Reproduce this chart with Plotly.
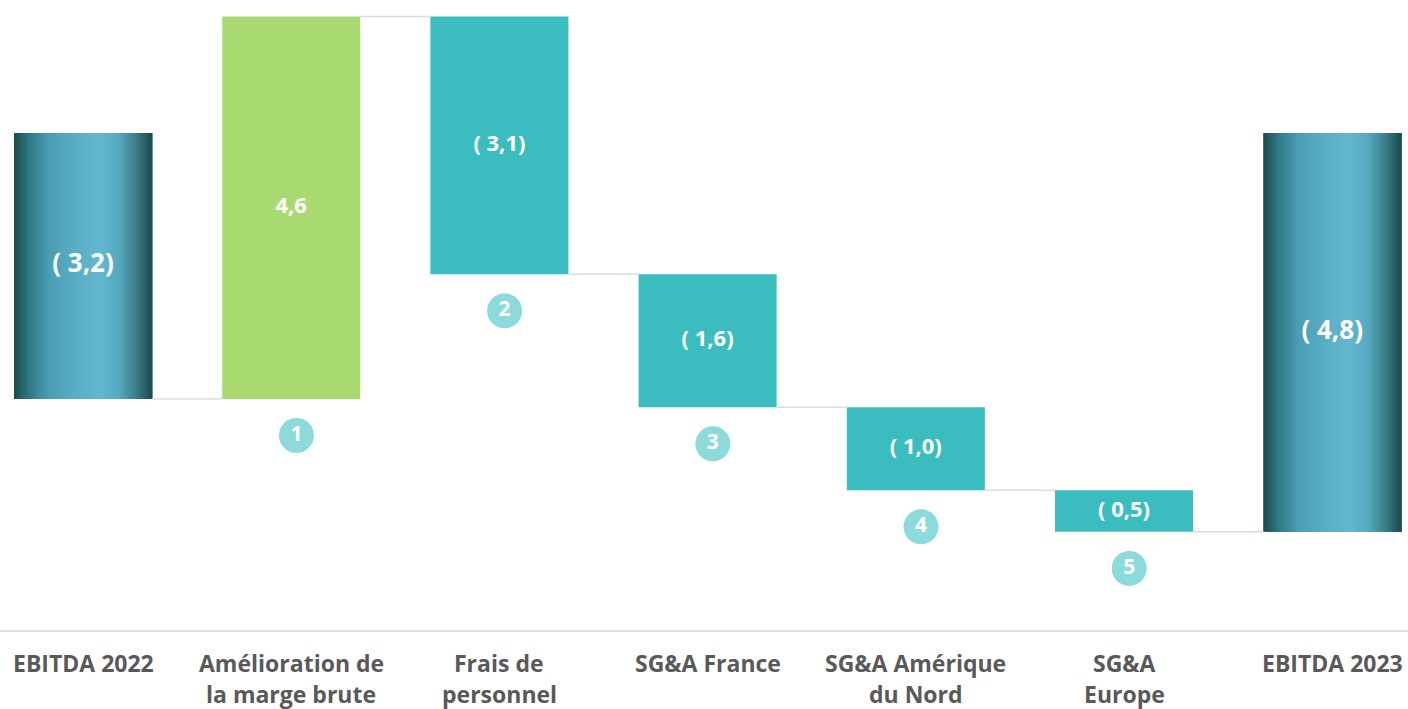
import plotly.graph_objects as go

# ---- data ----
categories = ["EBITDA 2022", "Amélioration de<br>la marge brute", "Frais de<br>personnel",
              "SG&A France", "SG&A Amérique<br>du Nord", "SG&A<br>Europe", "EBITDA 2023"]
measures = ["total", "relative", "relative", "relative", "relative", "relative", "total"]
values = [-3.2, 4.6, -3.1, -1.6, -1.0, -0.5, -4.8]
value_labels = ["( 3,2)", "4,6", "( 3,1)", "( 1,6)", "( 1,0)", "( 0,5)", "( 4,8)"]
step_numbers = ["", "1", "2", "3", "4", "5", ""]

# ---- styles ----
GREEN = "#a9da72"
TEAL = "#3bbcbe"
CIRCLE = "#8cdadb"
LABEL_GREY = "#595959"
CONNECTOR = "#dcdcdc"
BAR_W = 0.663
FONT = "Open Sans"

# compute bases / ends
bases, ends = [], []
level = 0.0
for m, v in zip(measures, values):
    if m == "total":
        b, e = 0.0, v
        level = v
    else:
        b, e = level, level + v
        level = e
    bases.append(b)
    ends.append(e)

xs = list(range(len(categories)))
fig = go.Figure()

# delta bars
for i, (m, v) in enumerate(zip(measures, values)):
    if m == "relative":
        fig.add_trace(go.Bar(x=[xs[i]], y=[v], base=[bases[i]], width=BAR_W,
                             marker=dict(color=GREEN if v > 0 else TEAL, line=dict(width=0)),
                             hoverinfo="skip", showlegend=False))

# gradient total bars (strips, each extends to the right edge)
stops = [(0.0, (27, 74, 75)), (0.1, (45, 117, 128)), (0.25, (74, 157, 179)),
         (0.45, (90, 174, 198)), (0.62, (98, 184, 207)), (0.76, (86, 169, 193)),
         (0.88, (60, 127, 139)), (1.0, (27, 74, 75))]

def grad(t):
    for (t0, c0), (t1, c1) in zip(stops[:-1], stops[1:]):
        if t0 <= t <= t1:
            f = (t - t0) / (t1 - t0)
            return "rgb(%d,%d,%d)" % tuple(round(a + (b - a) * f) for a, b in zip(c0, c1))
    return "rgb(%d,%d,%d)" % stops[-1][1]

N = 60
for i, m in enumerate(measures):
    if m != "total":
        continue
    offs = [-BAR_W / 2 + k * BAR_W / N for k in range(N)]
    wids = [BAR_W - k * BAR_W / N for k in range(N)]
    cols = [grad((k + 0.5) / N) for k in range(N)]
    fig.add_trace(go.Bar(x=[xs[i]] * N, y=[values[i]] * N, base=[0] * N,
                         offset=offs, width=wids,
                         marker=dict(color=cols, line=dict(width=0)),
                         hoverinfo="skip", showlegend=False))

# connectors
cx, cy = [], []
for i in range(len(xs) - 1):
    cx += [xs[i] + BAR_W / 2, xs[i + 1] - BAR_W / 2, None]
    cy += [ends[i], ends[i], None]
fig.add_trace(go.Scatter(x=cx, y=cy, mode="lines", line=dict(color=CONNECTOR, width=1.5),
                         hoverinfo="skip", showlegend=False))

# value labels
for i, m in enumerate(measures):
    fig.add_trace(go.Scatter(x=[xs[i]], y=[(bases[i] + ends[i]) / 2], mode="text",
                             text=[value_labels[i]],
                             textfont=dict(family=FONT, size=26 if m == "total" else 22,
                                           color="white", weight="bold"),
                             hoverinfo="skip", showlegend=False))

# numbered circles (slightly right of bar centre, below bar bottom)
nx = [xs[i] + 0.025 for i in range(len(xs)) if step_numbers[i]]
ny = [min(bases[i], ends[i]) - 0.44 for i in range(len(xs)) if step_numbers[i]]
nt = [step_numbers[i] for i in range(len(xs)) if step_numbers[i]]
fig.add_trace(go.Scatter(x=nx, y=ny, mode="markers+text", text=nt,
                         textposition="middle center",
                         marker=dict(size=35, color=CIRCLE, line=dict(width=0)),
                         textfont=dict(family=FONT, size=21, color="white", weight="bold"),
                         hoverinfo="skip", showlegend=False))

# category labels
for i, c in enumerate(categories):
    for j, line in enumerate(c.split("<br>")):
        fig.add_annotation(x=xs[i], y=0, xref="x", yref="paper", yanchor="middle",
                           yshift=-33 - 31 * j, text=line, showarrow=False,
                           font=dict(family=FONT, size=23, color=LABEL_GREY, weight="bold"))

fig.update_layout(
    width=1408, height=709,
    margin=dict(l=0, r=0, t=0, b=79),
    barmode="overlay",
    plot_bgcolor="white", paper_bgcolor="white",
    xaxis=dict(range=[-0.3987, 6.364], showgrid=False, zeroline=False,
               showticklabels=False, showline=True, linecolor="#dedede", linewidth=2,
               fixedrange=True),
    yaxis=dict(range=[-5.981, 1.600], showgrid=False, zeroline=False,
               showticklabels=False, showline=False, fixedrange=True),
)

fig.write_html("out.html", config={"displayModeBar": False},
               post_script="document.body.style.margin='0';")
